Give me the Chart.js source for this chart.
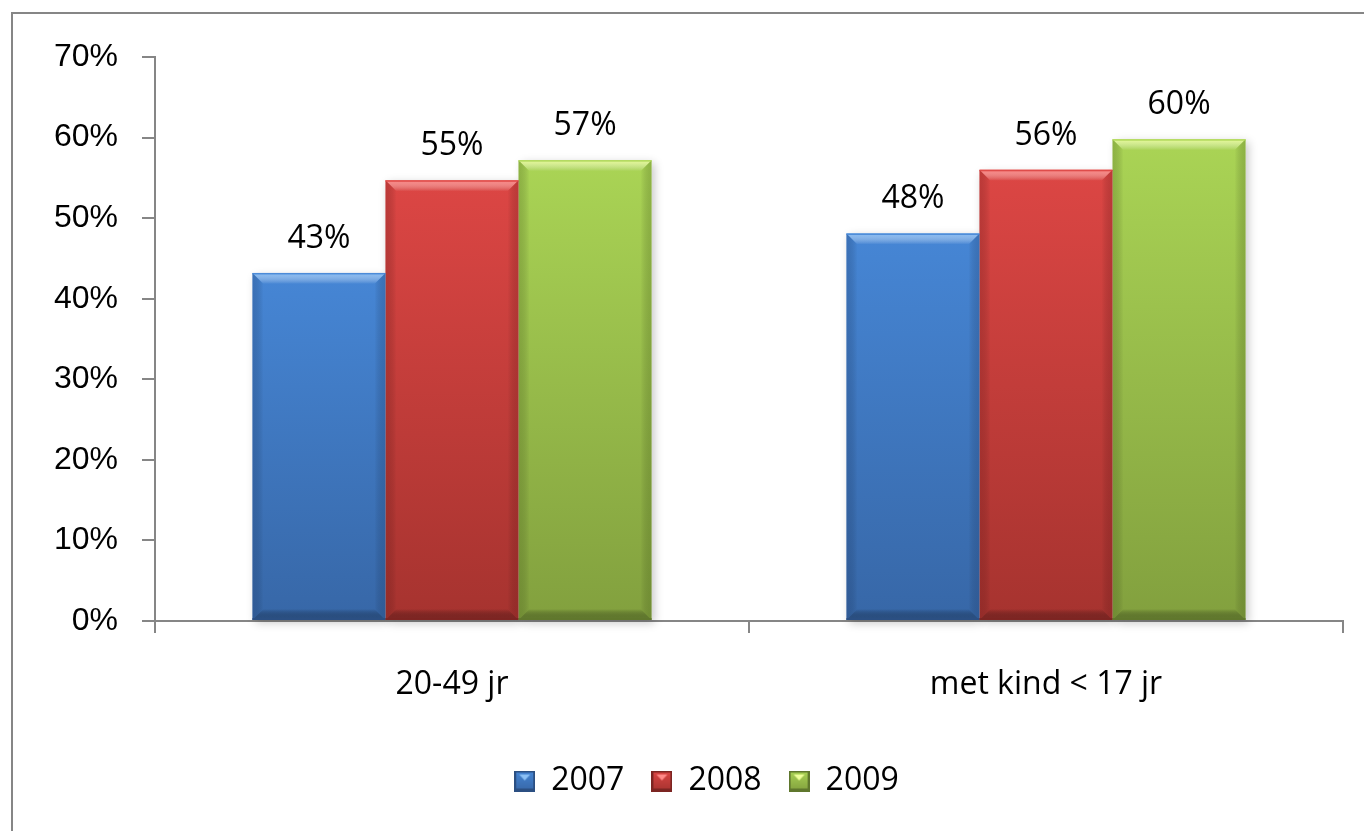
<!DOCTYPE html>
<html>
<head>
<meta charset="utf-8">
<script src="https://cdn.jsdelivr.net/npm/chart.js@4.4.1/dist/chart.umd.min.js"></script>
<style>
  html, body { margin: 0; padding: 0; background: #ffffff; overflow: hidden; }
  #frame { position: absolute; left: 11px; top: 12px; width: 1400px; height: 900px; border: 2px solid #868686; box-sizing: border-box; }
  #wrap { position: absolute; left: 0; top: 0; width: 1364px; height: 831px; }
</style>
</head>
<body>
<div id="frame"></div>
<div id="wrap"><canvas id="c" width="1364" height="831"></canvas></div>
<script>
const categories = ['20-49 jr', 'met kind < 17 jr'];
const seriesNames = ['2007', '2008', '2009'];
const values2007 = [43.2, 48.1];
const values2008 = [54.7, 56.0];
const values2009 = [57.2, 59.8];
const yTicks = [0, 10, 20, 30, 40, 50, 60, 70];

const palettes = [
  { top: '#4686d5', bottom: '#3767a7', light: '#8cc0f5', dark: '#2b4f82', side: 'rgba(30,60,110,0.35)' },
  { top: '#dc4644', bottom: '#a6332f', light: '#ff8a88', dark: '#7c2522', side: 'rgba(110,25,25,0.35)' },
  { top: '#aad455', bottom: '#82a03e', light: '#eeff9a', dark: '#5f772d', side: 'rgba(70,95,25,0.35)' }
];

function barGradient(ctx, pi) {
  const chart = ctx.chart;
  const ca = chart.chartArea;
  if (!ca) return palettes[pi].top;
  const yScale = chart.scales.y;
  const v = ctx.raw;
  const topPx = yScale.getPixelForValue(v);
  const botPx = yScale.getPixelForValue(0);
  const g = chart.ctx.createLinearGradient(0, topPx, 0, botPx);
  g.addColorStop(0, palettes[pi].top);
  g.addColorStop(1, palettes[pi].bottom);
  return g;
}

function makeMarker(p) {
  const c = document.createElement('canvas');
  c.width = 21; c.height = 21;
  const x = c.getContext('2d');
  const g = x.createLinearGradient(0, 0, 0, 21);
  g.addColorStop(0, p.top); g.addColorStop(1, p.bottom);
  x.fillStyle = p.dark; x.fillRect(0, 0, 21, 21);
  x.fillStyle = g; x.fillRect(2, 2, 17, 16);
  x.fillStyle = p.light;
  x.beginPath(); x.moveTo(5, 4); x.lineTo(16, 4); x.lineTo(10.5, 10); x.closePath(); x.fill();
  return c;
}
const markers = palettes.map(makeMarker);

const bevelPlugin = {
  id: 'bevel',
  afterLayout(chart) {
    if (chart.legend) { chart.legend.left += 35; chart.legend.right += 35; }
  },
  beforeDatasetsDraw(chart) {
    const ctx = chart.ctx;
    ctx.save();
    chart.data.datasets.forEach((ds, di) => {
      chart.getDatasetMeta(di).data.forEach(el => {
        const l = el.x - el.width / 2, t = el.y, w = el.width, h = el.base - el.y;
        ctx.shadowColor = 'rgba(0,0,0,0.22)';
        ctx.shadowBlur = 9;
        ctx.shadowOffsetX = 3;
        ctx.shadowOffsetY = 3;
        ctx.fillStyle = '#ffffff';
        ctx.fillRect(l, t, w, h);
      });
    });
    ctx.restore();
  },
  afterDatasetsDraw(chart) {
    const ctx = chart.ctx;
    chart.data.datasets.forEach((ds, di) => {
      const p = palettes[di];
      chart.getDatasetMeta(di).data.forEach(el => {
        const l = el.x - el.width / 2, r = el.x + el.width / 2, t = el.y, b = el.base;
        const bv = 11;
        ctx.save();
        let g = ctx.createLinearGradient(0, t, 0, t + bv);
        g.addColorStop(0, p.light);
        g.addColorStop(1, 'rgba(255,255,255,0)');
        ctx.globalAlpha = 0.9;
        ctx.fillStyle = g;
        ctx.beginPath(); ctx.moveTo(l, t); ctx.lineTo(r, t); ctx.lineTo(r - bv, t + bv); ctx.lineTo(l + bv, t + bv); ctx.closePath(); ctx.fill();
        g = ctx.createLinearGradient(l, 0, l + bv, 0);
        g.addColorStop(0, p.side); g.addColorStop(1, 'rgba(0,0,0,0)');
        ctx.globalAlpha = 0.8;
        ctx.fillStyle = g;
        ctx.beginPath(); ctx.moveTo(l, t); ctx.lineTo(l + bv, t + bv); ctx.lineTo(l + bv, b - bv); ctx.lineTo(l, b); ctx.closePath(); ctx.fill();
        g = ctx.createLinearGradient(r, 0, r - bv, 0);
        g.addColorStop(0, p.side); g.addColorStop(1, 'rgba(0,0,0,0)');
        ctx.fillStyle = g;
        ctx.beginPath(); ctx.moveTo(r, t); ctx.lineTo(r - bv, t + bv); ctx.lineTo(r - bv, b - bv); ctx.lineTo(r, b); ctx.closePath(); ctx.fill();
        g = ctx.createLinearGradient(0, b, 0, b - bv);
        g.addColorStop(0, p.dark); g.addColorStop(1, 'rgba(0,0,0,0)');
        ctx.globalAlpha = 0.75;
        ctx.fillStyle = g;
        ctx.beginPath(); ctx.moveTo(l, b); ctx.lineTo(r, b); ctx.lineTo(r - bv, b - bv); ctx.lineTo(l + bv, b - bv); ctx.closePath(); ctx.fill();
        ctx.globalAlpha = 0.9;
        ctx.fillStyle = p.top;
        ctx.fillRect(l, t, r - l, 1.5);
        ctx.fillStyle = p.dark;
        ctx.fillRect(l, b - 2, r - l, 2);
        ctx.restore();
      });
    });
  },
  afterDraw(chart) {
    const ctx = chart.ctx;
    ctx.save();
    ctx.font = '32px "Open Sans"';
    ctx.fillStyle = '#000000';
    ctx.textAlign = 'center';
    ctx.textBaseline = 'alphabetic';
    chart.data.datasets.forEach((ds, di) => {
      chart.getDatasetMeta(di).data.forEach((el, i) => {
        ctx.fillText(Math.round(ds.data[i]) + '%', el.x, el.y - 25);
      });
    });
    ctx.restore();
  }
};

const valueSets = [values2007, values2008, values2009];

new Chart(document.getElementById('c'), {
  type: 'bar',
  data: {
    labels: categories,
    datasets: seriesNames.map((name, i) => ({
      label: name,
      data: valueSets[i],
      backgroundColor: (ctx) => barGradient(ctx, i),
      borderWidth: 0,
      barPercentage: 1.0,
      categoryPercentage: 0.672
    }))
  },
  options: {
    responsive: false,
    animation: false,
    events: [],
    layout: { padding: { left: 0, top: 57, right: 21, bottom: 24 } },
    plugins: {
      tooltip: { enabled: false },
      legend: {
        display: true,
        position: 'bottom',
        labels: {
          font: { family: '"Open Sans"', size: 32 },
          color: '#000000',
          usePointStyle: true,
          boxWidth: 21,
          boxHeight: 21,
          padding: 27,
          generateLabels(chart) {
            return chart.data.datasets.map((ds, i) => ({
              text: ds.label,
              pointStyle: markers[i],
              fillStyle: palettes[i].top,
              strokeStyle: palettes[i].top,
              lineWidth: 0,
              hidden: false,
              datasetIndex: i
            }));
          }
        }
      }
    },
    scales: {
      x: {
        grid: { display: true, drawOnChartArea: false, offset: true, tickLength: 12, color: '#868686', lineWidth: 2 },
        border: { display: true, color: '#868686', width: 2 },
        ticks: { font: { family: '"Open Sans"', size: 32 }, color: '#000000', padding: 33 },
        afterFit(scale) { scale.height = 117; }
      },
      y: {
        min: 0,
        max: 70,
        afterBuildTicks(scale) { scale.ticks = yTicks.map(v => ({ value: v })); },
        grid: { display: true, drawOnChartArea: false, tickLength: 13, color: '#868686', lineWidth: 2 },
        border: { display: true, color: '#868686', width: 2 },
        ticks: { font: { family: '"Liberation Sans"', size: 32 }, color: '#000000', padding: 24, callback: (v) => v + '%' },
        afterFit(scale) { scale.width = 155; }
      }
    }
  },
  plugins: [bevelPlugin]
});
</script>
</body>
</html>
